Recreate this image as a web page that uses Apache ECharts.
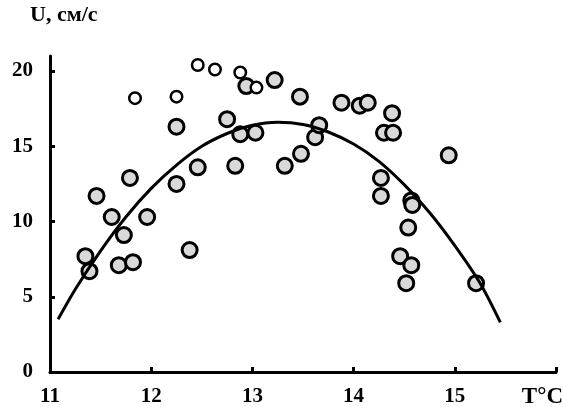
<!DOCTYPE html>
<html>
<head>
<meta charset="utf-8">
<script src="https://cdn.jsdelivr.net/npm/echarts@6/dist/echarts.min.js"></script>
<style>html,body{margin:0;padding:0;background:#fff}#c{width:563px;height:407px}</style>
</head>
<body>
<div id="c"></div>
<script>
// Gray (filled) observations: temperature T, speed U
const grayT = [11.35, 11.39, 11.46, 11.61, 11.68, 11.73, 11.79, 11.82, 11.96, 12.25,
  12.25, 12.38, 12.46, 12.75, 12.83, 12.88, 12.94, 13.03, 13.22, 13.32,
  13.47, 13.48, 13.62, 13.66, 13.88, 14.06, 14.14, 14.30, 14.39, 14.38,
  14.27, 14.27, 14.57, 14.58, 14.54, 14.46, 14.57, 14.52, 14.94, 15.21];
const grayU = [7.7, 6.7, 11.7, 10.3, 7.1, 9.1, 12.9, 7.3, 10.3, 12.5,
  16.3, 8.1, 13.6, 16.8, 13.7, 15.8, 19.0, 15.9, 19.4, 13.7,
  18.3, 14.5, 15.6, 16.4, 17.9, 17.7, 17.9, 15.9, 15.9, 17.2,
  12.9, 11.7, 11.4, 11.1, 9.6, 7.7, 7.1, 5.9, 14.4, 5.9];
// White (open) observations
const whiteT = [11.84, 12.25, 12.46, 12.63, 12.88, 13.04];
const whiteU = [18.2, 18.3, 20.4, 20.1, 19.9, 18.9];
// Fitted curve, points
const curveT = [11.08, 11.25, 11.5, 11.75, 12.0, 12.25, 12.5, 12.75, 13.0, 13.25, 13.5, 13.75, 14.0, 14.25, 14.5, 14.75, 15.0, 15.25, 15.45];
const curveU = [3.5, 5.5, 8.05, 10.3, 12.2, 13.75, 15.0, 15.85, 16.4, 16.6, 16.45, 15.95, 15.15, 14.0, 12.45, 10.6, 8.4, 5.9, 3.3];
// Axis ticks
const xTicks = [11, 12, 13, 14, 15, 16];
const yTicks = [0, 5, 10, 15, 20];
const yTitle = 'U, см/с';
const xTitle = 'T°C';

const zip = (a, b) => a.map((v, i) => [v, b[i]]);
const font = '"Liberation Serif", "Times New Roman", serif';

const chart = echarts.init(document.getElementById('c'), null, {renderer: 'canvas'});
chart.setOption({
  animation: false,
  grid: {left: 50, right: 7, top: 56, bottom: 35, containLabel: false},
  xAxis: {
    type: 'value', min: 11, max: 16, interval: 1,
    splitLine: {show: false},
    axisLine: {lineStyle: {color: '#000', width: 3}},
    axisTick: {inside: true, length: 5, lineStyle: {color: '#000', width: 3}, customValues: xTicks.slice(1)},
    axisLabel: {
      margin: 14, color: '#000', fontFamily: font, fontWeight: 'bold', fontSize: 21,
      customValues: xTicks.slice(0, 5)
    }
  },
  yAxis: {
    type: 'value', min: 0, max: 21, interval: 5,
    splitLine: {show: false},
    axisLine: {lineStyle: {color: '#000', width: 3}},
    axisTick: {inside: true, length: 5, lineStyle: {color: '#000', width: 3}, customValues: yTicks.slice(1)},
    axisLabel: {
      margin: 17, color: '#000', fontFamily: font, fontWeight: 'bold', fontSize: 21,
      customValues: yTicks
    }
  },
  graphic: [
    {type: 'text', left: 30, top: 4, style: {text: yTitle, font: 'bold 22px ' + font, fill: '#000'}},
    {type: 'text', right: 0, top: 386, style: {text: xTitle, font: 'bold 23px ' + font, fill: '#000'}}
  ],
  series: [
    {
      type: 'scatter', data: zip(grayT, grayU), symbol: 'circle', symbolSize: 15, z: 2,
      itemStyle: {color: '#d9d9d9', borderColor: '#000', borderWidth: 3, opacity: 1}
    },
    {
      type: 'scatter', data: zip(whiteT, whiteU), symbol: 'circle', symbolSize: 11.5, z: 2,
      itemStyle: {color: '#fff', borderColor: '#000', borderWidth: 2.5, opacity: 1}
    },
    {
      type: 'line', data: zip(curveT, curveU), smooth: 0.3, symbol: 'none', z: 3,
      lineStyle: {color: '#000', width: 3}
    }
  ]
});
</script>
</body>
</html>
